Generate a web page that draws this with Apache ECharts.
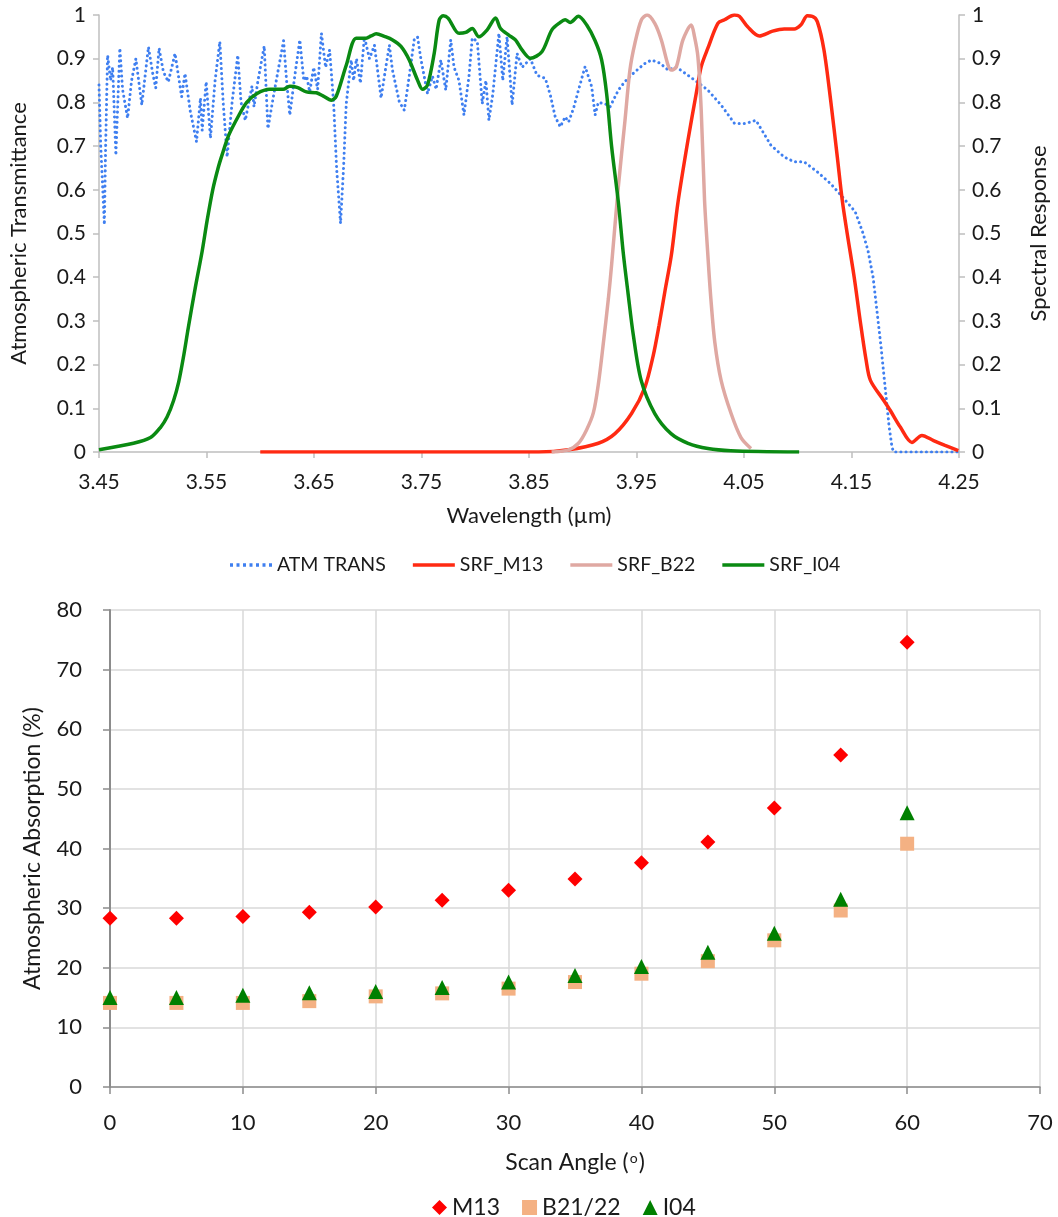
<!DOCTYPE html>
<html>
<head>
<meta charset="utf-8">
<script src="https://cdn.jsdelivr.net/npm/echarts@6/dist/echarts.min.js"></script>
<style>
html,body{margin:0;padding:0;background:#fff;}
#c{width:1058px;height:1217px;}
</style>
</head>
<body>
<div id="c"></div>
<script>
// ---------- Top chart data (wavelength in µm) ----------
const wlAtm = [3.450,3.4516,3.455,3.4562,3.458,3.4608,3.4627,3.4657,3.4694,3.4719,3.4766,3.4803,3.4843,3.4898,3.496,3.4997,3.5028,3.5059,3.5099,3.5145,3.5207,3.5269,3.530,3.5349,3.5407,3.5444,3.546,3.5497,3.5537,3.558,3.5624,3.5655,3.5692,3.5738,3.5791,3.5821,3.5861,3.5923,3.5942,3.5979,3.6037,3.6071,3.6127,3.6164,3.6217,3.6247,3.6275,3.6321,3.6368,3.6405,3.6432,3.646,3.6497,3.6534,3.6569,3.6608,3.6645,3.6682,3.671,3.6747,3.6775,3.680,3.6846,3.6868,3.6895,3.6932,3.6969,3.7016,3.7062,3.7124,3.7155,3.7201,3.7229,3.7294,3.734,3.7386,3.7432,3.7463,3.7494,3.7556,3.7602,3.7636,3.768,3.7726,3.7772,3.7803,3.7849,3.7895,3.7942,3.7972,3.8019,3.8065,3.8099,3.8127,3.8164,3.822,3.8256,3.8296,3.8343,3.8389,3.8435,3.8513,3.8574,3.8652,3.8698,3.8744,3.8791,3.8837,3.8868,3.8914,3.896,3.9022,3.9083,3.9115,3.9145,3.9207,3.9254,3.9331,3.9393,3.9485,3.9578,3.9639,3.9717,3.9794,3.987,3.9979,4.0085,4.0164,4.0287,4.0411,4.0519,4.0611,4.075,4.0874,4.0967,4.1059,4.1182,4.1306,4.1429,4.1534,4.1608,4.1654,4.1701,4.1738,4.1775,4.1812,4.1849,4.1877,4.1895,4.25];
const atmTrans = [0.84,0.70,0.52,0.70,0.908,0.85,0.88,0.679,0.924,0.83,0.764,0.85,0.90,0.794,0.927,0.87,0.833,0.924,0.87,0.847,0.912,0.813,0.866,0.78,0.710,0.81,0.736,0.847,0.718,0.85,0.939,0.80,0.675,0.80,0.908,0.80,0.759,0.837,0.79,0.85,0.929,0.740,0.82,0.87,0.941,0.843,0.771,0.86,0.943,0.85,0.86,0.824,0.88,0.83,0.958,0.88,0.92,0.80,0.65,0.523,0.65,0.797,0.897,0.85,0.90,0.844,0.95,0.90,0.931,0.81,0.86,0.931,0.875,0.801,0.782,0.86,0.943,0.95,0.90,0.82,0.86,0.83,0.897,0.828,0.943,0.88,0.85,0.771,0.86,0.947,0.94,0.797,0.85,0.759,0.82,0.958,0.85,0.95,0.794,0.912,0.88,0.90,0.862,0.855,0.817,0.767,0.744,0.767,0.755,0.786,0.828,0.882,0.836,0.771,0.80,0.797,0.79,0.828,0.848,0.870,0.889,0.897,0.89,0.874,0.881,0.862,0.843,0.828,0.794,0.752,0.752,0.759,0.702,0.675,0.664,0.664,0.641,0.614,0.580,0.55,0.50,0.46,0.40,0.32,0.24,0.15,0.06,0.01,0,0];

const wlM13 = [3.60,3.859,3.8867,3.9145,3.93,3.9454,3.9578,3.9655,3.971,3.9766,3.9824,3.9885,3.9979,4.0056,4.0102,4.0164,4.0257,4.0319,4.0411,4.0457,4.0534,4.0643,4.0766,4.0874,4.0967,4.1028,4.109,4.1136,4.1182,4.1244,4.1306,4.1368,4.1414,4.146,4.1525,4.1581,4.1636,4.1676,4.18,4.1861,4.1954,4.2062,4.2155,4.2263,4.237,4.2494];
const srfM13 = [0,0,0.005,0.02,0.042,0.088,0.148,0.22,0.29,0.37,0.45,0.57,0.714,0.821,0.882,0.924,0.981,0.989,1.0,0.997,0.973,0.952,0.963,0.968,0.968,0.977,0.998,0.997,0.985,0.92,0.805,0.675,0.576,0.50,0.40,0.30,0.21,0.164,0.118,0.095,0.057,0.022,0.038,0.026,0.015,0.003];

const wlB22 = [3.871,3.8867,3.896,3.9034,3.9099,3.9145,3.9192,3.9238,3.9269,3.9331,3.9393,3.9439,3.9485,3.9546,3.9599,3.967,3.9731,3.9794,3.9824,3.987,3.9932,4.0009,4.004,4.0071,4.0102,4.0133,4.0164,4.0192,4.0229,4.0287,4.038,4.0472,4.0565];
const srfB22 = [0,0.005,0.02,0.05,0.09,0.155,0.25,0.35,0.43,0.607,0.759,0.874,0.935,0.989,1.0,0.981,0.943,0.885,0.874,0.881,0.943,0.977,0.95,0.905,0.782,0.576,0.45,0.35,0.25,0.164,0.088,0.033,0.008];

const wlI04 = [3.450,3.4821,3.4979,3.5071,3.5133,3.5194,3.5241,3.5284,3.5331,3.5395,3.546,3.5506,3.5558,3.5608,3.5645,3.5707,3.58,3.5874,3.5967,3.609,3.6213,3.6275,3.6349,3.643,3.6522,3.6583,3.6661,3.6707,3.68,3.6893,3.6985,3.7031,3.7078,3.7155,3.7231,3.7309,3.7386,3.7463,3.7509,3.7556,3.7618,3.7664,3.7701,3.7747,3.7849,3.7911,3.7972,3.8034,3.8111,3.8189,3.8235,3.8312,3.8374,3.8435,3.8513,3.862,3.8713,3.8791,3.8837,3.8883,3.896,3.9037,3.9115,3.9176,3.9222,3.9269,3.9331,3.9377,3.9423,3.9469,3.9543,3.967,3.9821,3.9979,4.0164,4.0377,4.1013];
const srfI04 = [0.005,0.02,0.033,0.056,0.08,0.118,0.16,0.215,0.285,0.375,0.46,0.53,0.60,0.65,0.68,0.725,0.77,0.80,0.82,0.83,0.83,0.837,0.834,0.824,0.822,0.815,0.805,0.814,0.885,0.947,0.947,0.952,0.957,0.951,0.943,0.928,0.897,0.851,0.83,0.84,0.912,0.988,0.998,0.993,0.958,0.96,0.969,0.95,0.966,0.993,0.969,0.954,0.943,0.92,0.901,0.916,0.966,0.983,0.989,0.983,0.997,0.977,0.941,0.897,0.82,0.698,0.572,0.455,0.36,0.27,0.164,0.088,0.042,0.02,0.008,0.003,0.0];

// ---------- Bottom chart data ----------
const scanAngle = [0,5,10,15,20,25,30,35,40,45,50,55,60];
const absM13 = [28.3,28.3,28.6,29.3,30.2,31.3,33.0,34.9,37.6,41.1,46.8,55.7,74.6];
const absB2122 = [14.1,14.1,14.1,14.4,15.2,15.7,16.5,17.6,19.0,21.1,24.6,29.6,40.8];
const absI04 = [15.0,15.0,15.4,15.8,16.0,16.7,17.6,18.7,20.2,22.6,25.8,31.5,46.0];

const pair = (xs, ys) => xs.map((x, i) => [x, ys[i]]);

const FONT = 'Lato';
const TXT = '#1a1a1a';
const axisGrayTop = '#bfbfbf';
const axisGrayBot = '#8c8c8c';

// legend line icons (42 x 3.5)
const solidIcon = 'path://M0,0H42V3.5H0Z';
let dotted = '';
for (let k = 0; k < 7; k++) { const x0 = k * 6.5; dotted += 'M' + x0 + ',0h3v3.5h-3Z'; }
const dottedIcon = 'path://' + dotted;

const chart = echarts.init(document.getElementById('c'), null, {renderer: 'canvas'});
chart.setOption({
  animation: false,
  backgroundColor: '#fff',
  textStyle: {fontFamily: FONT, color: TXT},
  grid: [
    {left: 98, top: 15, width: 864, height: 437},
    {left: 110, top: 610, width: 930, height: 477}
  ],
  legend: [
    {
      left: 225, top: 550,
      itemWidth: 42, itemHeight: 3.5, itemGap: 27,
      textStyle: {fontFamily: FONT, fontSize: 19.5, color: TXT},
      data: [
        {name: 'ATM TRANS', icon: dottedIcon},
        {name: 'SRF_M13', icon: solidIcon},
        {name: 'SRF_B22', icon: solidIcon},
        {name: 'SRF_I04', icon: solidIcon}
      ]
    },
    {
      left: 427, top: 1191,
      itemWidth: 15, itemHeight: 15, itemGap: 22,
      textStyle: {fontFamily: FONT, fontSize: 23, color: TXT},
      data: [
        {name: 'M13', icon: 'diamond'},
        {name: 'B21/22', icon: 'rect'},
        {name: 'I04', icon: 'triangle'}
      ]
    }
  ],
  xAxis: [
    {
      type: 'value', gridIndex: 0, min: 3.45, max: 4.25, interval: 0.1,
      name: 'Wavelength (µm)', nameLocation: 'middle', nameGap: 53,
      nameTextStyle: {fontFamily: FONT, fontSize: 22, color: TXT},
      axisLine: {show: true, lineStyle: {color: axisGrayTop, width: 1.5}},
      axisTick: {show: true, length: 6, lineStyle: {color: axisGrayTop, width: 1.5}},
      axisLabel: {margin: 20, fontFamily: FONT, fontSize: 21, color: TXT, formatter: v => v.toFixed(2)},
      splitLine: {show: false}
    },
    {
      type: 'value', gridIndex: 1, min: 0, max: 70, interval: 10,
      name: '{a|Scan Angle (}{s|o}{a|)}', nameLocation: 'middle', nameGap: 64,
      nameTextStyle: {rich: {
        a: {fontFamily: FONT, fontSize: 23, color: TXT},
        s: {fontFamily: FONT, fontSize: 14, color: TXT, verticalAlign: 'top', padding: [0, 1, 9, 1]}
      }},
      axisLine: {show: true, lineStyle: {color: axisGrayBot, width: 1.5}},
      axisTick: {show: true, length: 7, inside: false, lineStyle: {color: axisGrayBot, width: 1.5}},
      axisLabel: {margin: 25, fontFamily: FONT, fontSize: 22, color: TXT},
      splitLine: {show: true, lineStyle: {color: '#d9d9d9', width: 1.5}}
    }
  ],
  yAxis: [
    {
      type: 'value', gridIndex: 0, min: 0, max: 1, interval: 0.1, position: 'left',
      name: 'Atmospheric Transmittance', nameLocation: 'middle', nameGap: 69, nameRotate: 90,
      nameTextStyle: {fontFamily: FONT, fontSize: 22, color: TXT},
      axisLine: {show: true, lineStyle: {color: axisGrayTop, width: 1.5}},
      axisTick: {show: true, length: 6, lineStyle: {color: axisGrayTop, width: 1.5}},
      axisLabel: {margin: 13, fontFamily: FONT, fontSize: 21, color: TXT, formatter: v => +v.toFixed(1) + ''},
      splitLine: {show: false}
    },
    {
      type: 'value', gridIndex: 0, min: 0, max: 1, interval: 0.1, position: 'right',
      name: 'Spectral Response', nameLocation: 'middle', nameGap: 69, nameRotate: 90,
      nameTextStyle: {fontFamily: FONT, fontSize: 22, color: TXT},
      axisLine: {show: true, lineStyle: {color: axisGrayTop, width: 1.5}},
      axisTick: {show: true, length: 6, lineStyle: {color: axisGrayTop, width: 1.5}},
      axisLabel: {margin: 13, fontFamily: FONT, fontSize: 21, color: TXT, formatter: v => +v.toFixed(1) + ''},
      splitLine: {show: false}
    },
    {
      type: 'value', gridIndex: 1, min: 0, max: 80, interval: 10,
      name: 'Atmospheric Absorption (%)', nameLocation: 'middle', nameGap: 66, nameRotate: 90,
      nameTextStyle: {fontFamily: FONT, fontSize: 23, color: TXT},
      axisLine: {show: true, lineStyle: {color: axisGrayBot, width: 2}},
      axisTick: {show: true, length: 7, lineStyle: {color: axisGrayBot, width: 1.5}},
      axisLabel: {margin: 28, fontFamily: FONT, fontSize: 22, color: TXT},
      splitLine: {show: true, lineStyle: {color: '#d9d9d9', width: 1.5}}
    }
  ],
  series: [
    {
      name: 'ATM TRANS', type: 'line', xAxisIndex: 0, yAxisIndex: 0,
      data: pair(wlAtm, atmTrans), symbol: 'none', smooth: false,
      itemStyle: {color: '#3f7ff0'},
      lineStyle: {color: '#3f7ff0', width: 3, type: [0.1, 5], cap: 'round', join: 'round'}
    },
    {
      name: 'SRF_M13', type: 'line', xAxisIndex: 0, yAxisIndex: 1,
      data: pair(wlM13, srfM13), symbol: 'none', smooth: 0.3,
      itemStyle: {color: '#ff2a12'},
      lineStyle: {color: '#ff2a12', width: 3.5}
    },
    {
      name: 'SRF_B22', type: 'line', xAxisIndex: 0, yAxisIndex: 1,
      data: pair(wlB22, srfB22), symbol: 'none', smooth: 0.3,
      itemStyle: {color: '#dfa8a2'},
      lineStyle: {color: '#dfa8a2', width: 3.5}
    },
    {
      name: 'SRF_I04', type: 'line', xAxisIndex: 0, yAxisIndex: 1,
      data: pair(wlI04, srfI04), symbol: 'none', smooth: 0.3,
      itemStyle: {color: '#0a8a12'},
      lineStyle: {color: '#0a8a12', width: 3.5}
    },
    {
      name: 'M13', type: 'scatter', xAxisIndex: 1, yAxisIndex: 2,
      data: pair(scanAngle, absM13), symbol: 'diamond', symbolSize: 15,
      itemStyle: {color: '#ff0000', opacity: 1}
    },
    {
      name: 'B21/22', type: 'scatter', xAxisIndex: 1, yAxisIndex: 2,
      data: pair(scanAngle, absB2122), symbol: 'rect', symbolSize: 14,
      itemStyle: {color: '#f4b183', opacity: 1}
    },
    {
      name: 'I04', type: 'scatter', xAxisIndex: 1, yAxisIndex: 2,
      data: pair(scanAngle, absI04), symbol: 'triangle', symbolSize: 15,
      itemStyle: {color: '#008000', opacity: 1}
    }
  ]
});
</script>
</body>
</html>
